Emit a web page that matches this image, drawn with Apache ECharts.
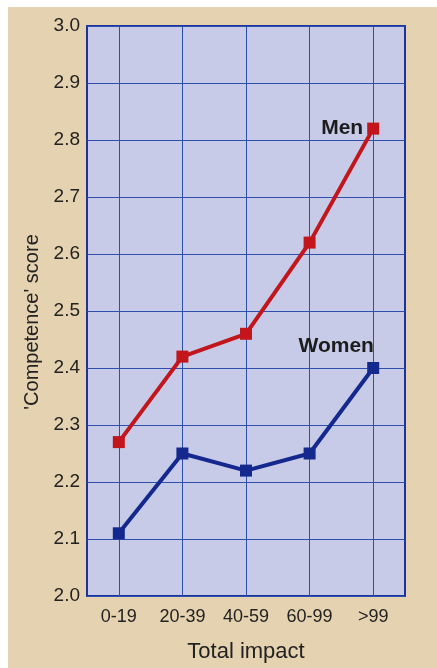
<!DOCTYPE html>
<html>
<head>
<meta charset="utf-8">
<script src="https://cdn.jsdelivr.net/npm/echarts@6/dist/echarts.min.js"></script>
<style>
html,body{margin:0;padding:0;background:#fff;}
#chart{width:437px;height:668px;}
</style>
</head>
<body>
<div id="chart"></div>
<script>
const categories = ['0-19', '20-39', '40-59', '60-99', '>99'];
const men = [2.27, 2.42, 2.46, 2.62, 2.82];
const women = [2.11, 2.25, 2.22, 2.25, 2.40];
const seriesNames = ['Men', 'Women'];

const chart = echarts.init(document.getElementById('chart'));
const font = 'Liberation Sans, Arial, sans-serif';
const gridColor = '#2f4fae';

function lastLabel(arr, name, labelOpt) {
  return arr.map((v, i) => i === arr.length - 1 ? {
    value: v,
    label: Object.assign({
      show: true, formatter: name, fontFamily: font, fontWeight: 'bold',
      fontSize: 21, color: '#1c1c1c'
    }, labelOpt)
  } : v);
}

chart.setOption({
  animation: false,
  backgroundColor: 'transparent',
  graphic: [{
    type: 'rect', z: -10, silent: true,
    shape: { x: 8, y: 7, width: 437, height: 668 },
    style: { fill: '#e5d2b0' }
  }],
  grid: {
    left: 87, top: 26, right: 32, bottom: 69,
    show: true, backgroundColor: '#c7cbe8', borderColor: '#1c3399', borderWidth: 2
  },
  xAxis: {
    type: 'category',
    data: categories,
    boundaryGap: true,
    name: 'Total impact',
    nameLocation: 'middle',
    nameGap: 45,
    nameTextStyle: { fontFamily: font, fontSize: 22, color: '#222' },
    axisLine: { show: false },
    axisTick: { show: false },
    axisLabel: { fontFamily: font, fontSize: 18, color: '#222', margin: 12 },
    splitLine: { show: true, alignWithLabel: true, lineStyle: { color: gridColor, width: 1 } }
  },
  yAxis: {
    type: 'value',
    min: 2.0, max: 3.0, interval: 0.1,
    name: "'Competence' score",
    nameLocation: 'middle',
    nameGap: 44,
    nameTextStyle: { fontFamily: font, fontSize: 20, color: '#222', padding: [0, 22, 0, 0] },
    axisLine: { show: false },
    axisTick: { show: false },
    axisLabel: { fontFamily: font, fontSize: 19, color: '#222', margin: 7,
      formatter: v => v.toFixed(1) },
    splitLine: { show: true, lineStyle: { color: gridColor, width: 1 } }
  },
  series: [{
    name: seriesNames[0],
    type: 'line',
    data: lastLabel(men, seriesNames[0], { position: 'left', distance: 4 }),
    symbol: 'rect', symbolSize: 12,
    lineStyle: { color: '#c2161c', width: 4 },
    itemStyle: { color: '#c2161c' },
    z: 3
  }, {
    name: seriesNames[1],
    type: 'line',
    data: lastLabel(women, seriesNames[1], { position: 'top', distance: 5, offset: [-37, 0] }),
    symbol: 'rect', symbolSize: 12,
    lineStyle: { color: '#14288e', width: 4 },
    itemStyle: { color: '#14288e' },
    z: 3
  }]
});
</script>
</body>
</html>
